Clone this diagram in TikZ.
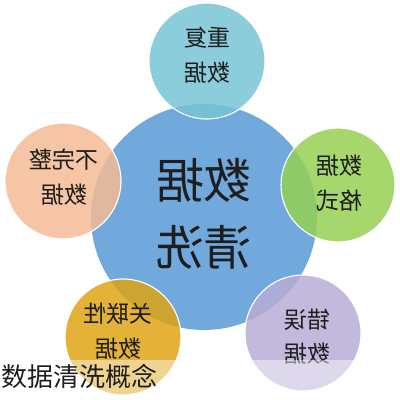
\documentclass[tikz,border=0pt]{standalone}
\usepackage{fontspec}
\setmainfont{Noto Sans CJK SC}
\usetikzlibrary{positioning}
\definecolor{coreblue}{RGB}{113,169,221}
\definecolor{dupteal}{RGB}{120,196,214}
\definecolor{fmtgreen}{RGB}{149,208,84}
\definecolor{errpurple}{RGB}{184,173,214}
\definecolor{relgold}{RGB}{223,164,20}
\definecolor{incpeach}{RGB}{243,187,149}
\definecolor{inkgray}{RGB}{30,30,30}

\begin{document}
\begin{tikzpicture}[bubble/.style={circle,draw=white,line width=0.8pt,fill opacity=0.85,minimum size=2.9cm,inner sep=0pt},
  mirror/.style={xscale=-1,align=center,text=inkgray,inner sep=0pt,font=\fontsize{16.5}{24.5}\selectfont}]
\useasboundingbox (0,0) rectangle (10,10);
\node[circle,fill=coreblue,minimum size=5.65cm,inner sep=0pt] (core) at (5.1,4.575) {};
\node[bubble,fill=dupteal] (dup) at (5.175,8.475) {};
\node[bubble,fill=fmtgreen,minimum size=2.85cm] (fmt) at (8.45,5.375) {};
\node[bubble,fill=errpurple] (err) at (7.575,1.675) {};
\node[bubble,fill=relgold] (rel) at (3.075,1.575) {};
\node[bubble,fill=incpeach] (inc) at (1.575,5.475) {};
% mirrored labels
\node[mirror,font=\fontsize{34}{48}\selectfont] (corelbl) at (5.1,4.65) {数据\\清洗};
\node[mirror] (duplbl) at (5.175,8.62) {重复\\数据};
\node[mirror] (fmtlbl) at (8.475,5.42) {数据\\格式};
\node[mirror] (errlbl) at (7.675,1.58) {错误\\数据};
\node[mirror] (rellbl) at (2.95,1.72) {关联性\\数据};
\node[mirror] (inclbl) at (1.6,5.57) {不完整\\数据};
\fill[white,opacity=0.45] (0,0) rectangle (10,1.0);
\node[anchor=west,inner sep=0pt,text=inkgray,font=\fontsize{18.5}{20}\selectfont] (caption) at (0.02,0.59) {数据清洗概念};
\end{tikzpicture}
\end{document}
